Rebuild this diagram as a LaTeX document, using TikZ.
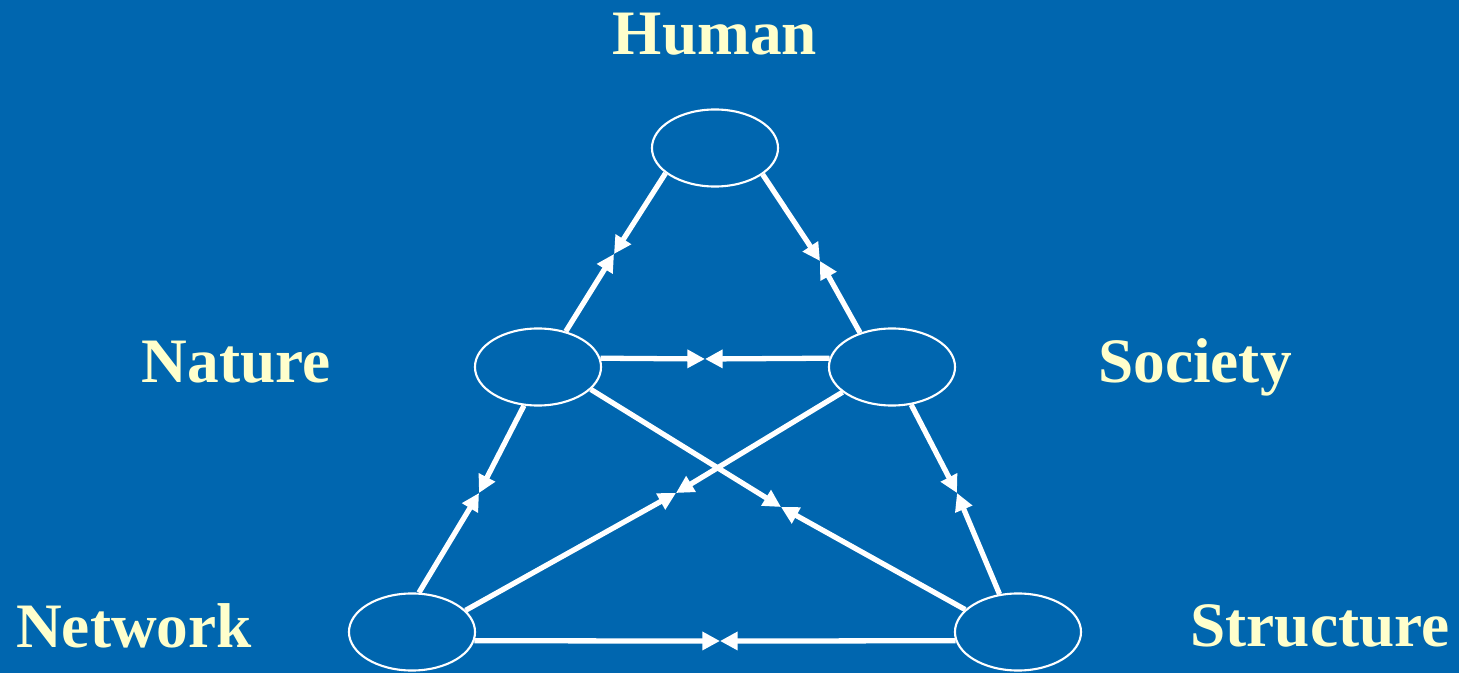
\documentclass[tikz,border=0pt]{standalone}
\usepackage{fontspec}
\setmainfont{Liberation Serif}
\usepackage{tikz}
\usetikzlibrary{arrows.meta}
\usetikzlibrary{shapes.geometric}
\definecolor{slideblue}{HTML}{0066AF}
\definecolor{labelyellow}{HTML}{FFFFCC}
\tikzset{
	oval/.style={draw=white, line width=0.6pt, ellipse, minimum width=1.26cm, minimum height=0.77cm, inner sep=0pt},
	link/.style={white, line width=1.5pt, -{Triangle[length=5pt,width=5pt]}},
	caption/.style={text=labelyellow, font=\bfseries\fontsize{18}{20}\selectfont, anchor=base}
}

\begin{document}
\begin{tikzpicture}[x=0.01cm, y=-0.01cm, line cap=butt, line join=round]
			% Background of the slide
			\fill[slideblue] (0,0) rectangle (1459,673);
			\useasboundingbox (0,0) rectangle (1459,673);
			
			% The five ovals
			\node[oval] (Human) at (715,148) {};
			\node[oval] (Nature) at (538,367) {};
			\node[oval] (Society) at (892,367) {};
			\node[oval] (Network) at (412,632) {};
			\node[oval] (Structure) at (1018,632) {};
			
			% Labels
			\node[caption] (tHuman) at (715,55) {Human};
			\node[caption] (tNature) at (236,383) {Nature};
			\node[caption] (tSociety) at (1195,383) {Society};
			\node[caption] (tNetwork) at (134,648) {Network};
			\node[caption] (tStructure) at (1320,647) {Structure};
			
			% Meeting points of the arrow pairs
			\coordinate (hn) at (614,254);
			\coordinate (hs) at (820,261);
			\coordinate (ns) at (705,359);
			\coordinate (nw) at (479,493);
			\coordinate (st) at (957,493);
			\coordinate (nt) at (781,507);
			\coordinate (sw) at (676,493);
			\coordinate (wt) at (720,641);
			
			% Arrows towards each other
			\draw[link] (Human.207) -- (hn);
			\draw[link] (Nature.52) -- (hn);
			\draw[link] (Human.331) -- (hs);
			\draw[link] (Society.133) -- (hs);
			\draw[link] (Nature.8) -- (ns);
			\draw[link] (Society.172) -- (ns);
			\draw[link] (Nature.250) -- (nw);
			\draw[link] (Network.80) -- (nw);
			\draw[link] (Society.297) -- (st);
			\draw[link] (Structure.116) -- (st);
			\draw[link] (Nature.337) -- (nt);
			\draw[link] (Structure.157) -- (nt);
			\draw[link] (Society.207) -- (sw);
			\draw[link] (Network.22) -- (sw);
			\draw[link] (Network.352) -- (wt);
			\draw[link] (Structure.188) -- (wt);
		\end{tikzpicture}
\end{document}
